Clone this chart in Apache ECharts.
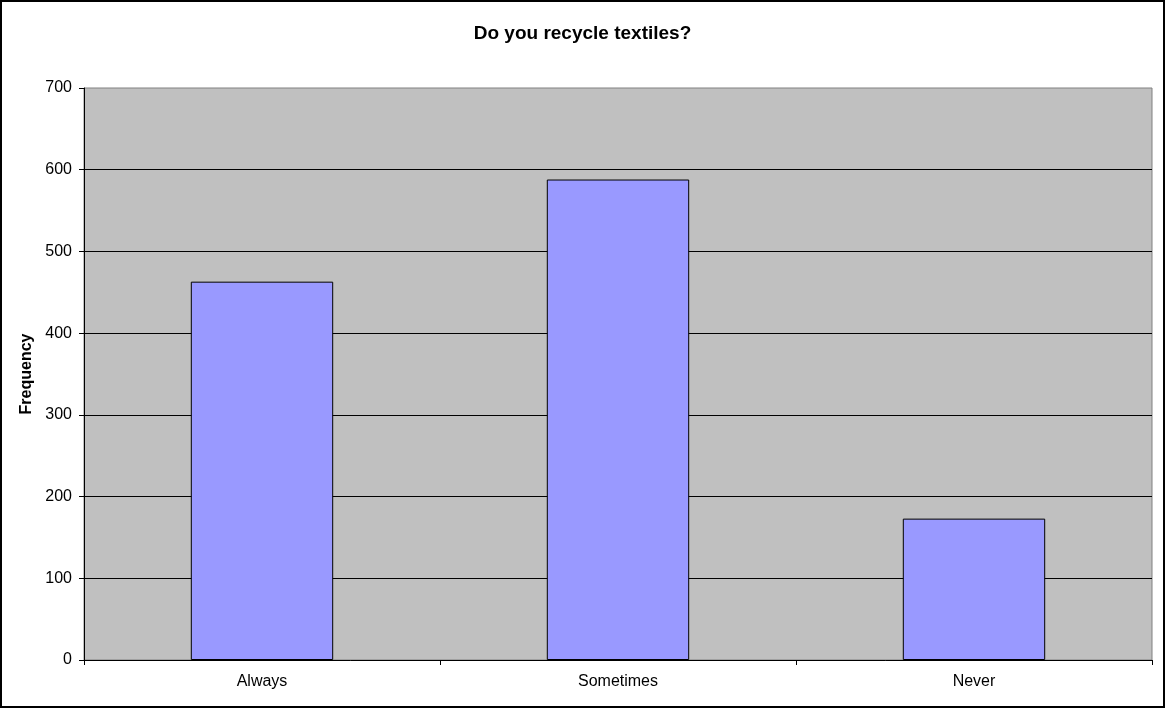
<!DOCTYPE html>
<html><head><meta charset="utf-8">
<script src="https://cdn.jsdelivr.net/npm/echarts@6/dist/echarts.min.js"></script>
<style>html,body{margin:0;padding:0;background:#fff}#c{width:1165px;height:708px;box-sizing:border-box;border:2px solid #000}</style>
</head><body><div id="c"></div>
<script>
const categories = ['Always', 'Sometimes', 'Never'];
const frequency = [463, 588, 173];
const chart = echarts.init(document.getElementById('c'));
const FONT = 'Liberation Sans, Arial';
chart.setOption({
  animation: false,
  title: { text: 'Do you recycle textiles?', left: 'center', top: 17,
    textStyle: { fontFamily: FONT, fontSize: 19, fontWeight: 'bold', color: '#000' } },
  grid: { left: 82, right: 11, top: 86, bottom: 46, show: true, backgroundColor: '#c0c0c0', borderColor: '#808080', borderWidth: 1 },
  xAxis: { type: 'category', data: categories,
    axisLine: { lineStyle: { color: '#000', width: 1 } },
    axisTick: { show: true, length: 5, lineStyle: { color: '#000' } },
    axisLabel: { color: '#000', fontFamily: FONT, fontSize: 16, margin: 14 } },
  yAxis: { type: 'value', min: 0, max: 700, interval: 100,
    name: 'Frequency', nameLocation: 'middle', nameGap: 45, nameRotate: 90,
    nameTextStyle: { fontFamily: FONT, fontSize: 16, fontWeight: 'bold', color: '#000' },
    axisLine: { show: true, lineStyle: { color: '#000' } },
    axisTick: { show: true, length: 5, lineStyle: { color: '#000' } },
    axisLabel: { color: '#000', fontFamily: FONT, fontSize: 16, margin: 12 },
    splitLine: { showMaxLine: false, showMinLine: false, lineStyle: { color: '#000', width: 1 } } },
  series: [{ type: 'bar', data: frequency, barWidth: '40%',
    itemStyle: { color: '#9999ff', borderColor: '#000', borderWidth: 1 } }]
});
</script></body></html>
